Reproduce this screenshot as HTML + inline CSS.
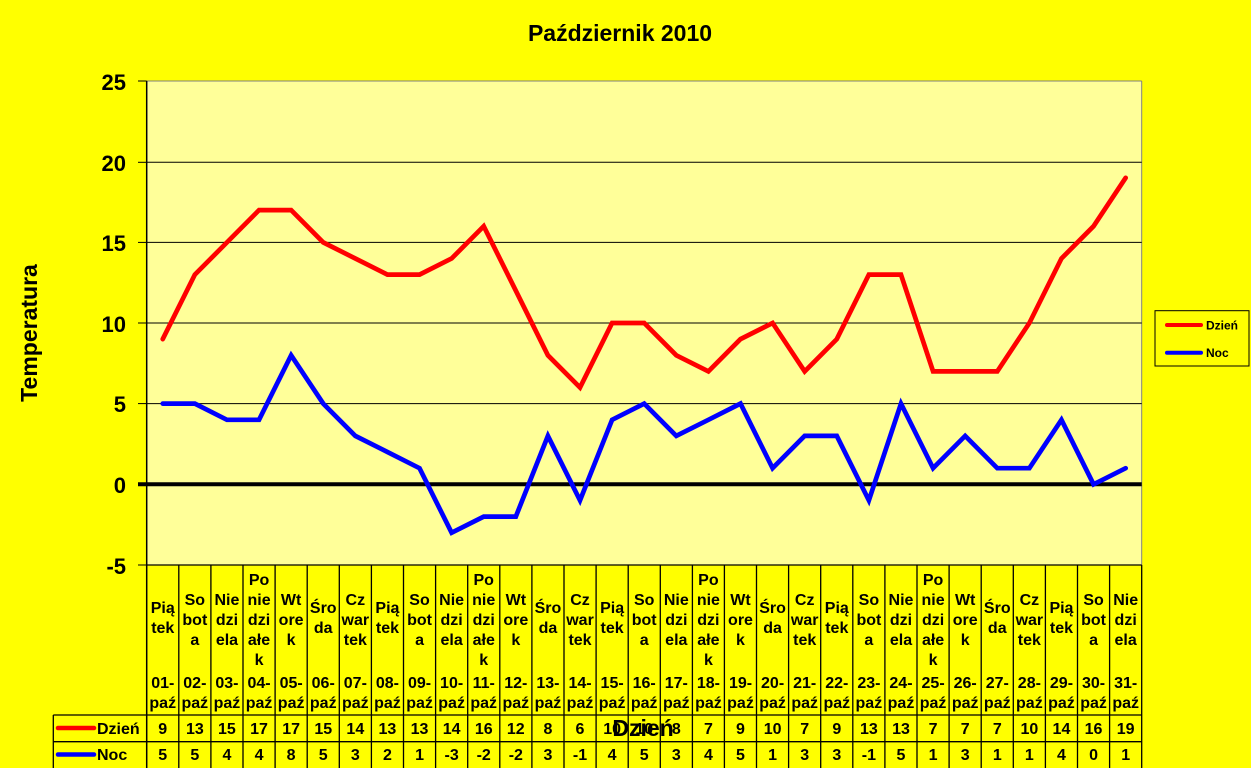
<!DOCTYPE html>
<html><head><meta charset="utf-8">
<style>
html,body{margin:0;padding:0;background:#FFFF00;}
svg{display:block;}
text{font-family:"Liberation Sans",Arial,sans-serif;font-weight:bold;fill:#000;}
</style></head>
<body>
<svg width="1251" height="768" viewBox="0 0 1251 768" xmlns="http://www.w3.org/2000/svg">
<rect x="0" y="0" width="1251" height="768" fill="#FFFF00"/>
<!-- plot area -->
<rect x="146.7" y="81" width="995" height="484" fill="#FFFF99"/>
<line x1="146.7" y1="81" x2="1141.7" y2="81" stroke="#808080" stroke-width="1"/>
<line x1="1141.7" y1="81" x2="1141.7" y2="565" stroke="#808080" stroke-width="1"/>
<!-- gridlines -->
<g stroke="#000" stroke-width="1">
<line x1="146.7" y1="162.3" x2="1141.7" y2="162.3"/>
<line x1="146.7" y1="242.4" x2="1141.7" y2="242.4"/>
<line x1="146.7" y1="323.0" x2="1141.7" y2="323.0"/>
<line x1="146.7" y1="403.6" x2="1141.7" y2="403.6"/>
<!-- ticks -->
<line x1="138" y1="81" x2="146.7" y2="81"/>
<line x1="138" y1="162.3" x2="146.7" y2="162.3"/>
<line x1="138" y1="242.4" x2="146.7" y2="242.4"/>
<line x1="138" y1="323.0" x2="146.7" y2="323.0"/>
<line x1="138" y1="403.6" x2="146.7" y2="403.6"/>
<line x1="138" y1="565" x2="146.7" y2="565"/>
</g>
<line x1="138" y1="484.3" x2="1141.7" y2="484.3" stroke="#000" stroke-width="4"/>
<line x1="146.7" y1="81" x2="146.7" y2="768" stroke="#000" stroke-width="1.5"/>
<!-- y tick labels -->
<g font-size="22" text-anchor="end">
<text x="126" y="90">25</text>
<text x="126" y="171">20</text>
<text x="126" y="251">15</text>
<text x="126" y="332">10</text>
<text x="126" y="412">5</text>
<text x="126" y="493">0</text>
<text x="126" y="574">-5</text>
</g>
<!-- title -->
<text x="620" y="41" font-size="23" text-anchor="middle">Październik 2010</text>
<text transform="translate(37,333) rotate(-90)" font-size="23" text-anchor="middle">Temperatura</text>
<!-- series -->
<polyline fill="none" stroke="#FF0000" stroke-width="4.7" stroke-linejoin="miter" stroke-linecap="round" points="162.75,339.1 194.85,274.6 226.94,242.4 259.04,210.1 291.14,210.1 323.23,242.4 355.33,258.5 387.43,274.6 419.53,274.6 451.62,258.5 483.72,226.2 515.82,290.7 547.91,355.3 580.01,387.5 612.11,323.0 644.2,323.0 676.3,355.3 708.4,371.4 740.5,339.1 772.59,323.0 804.69,371.4 836.79,339.1 868.88,274.6 900.98,274.6 933.08,371.4 965.17,371.4 997.27,371.4 1029.37,323.0 1061.46,258.5 1093.56,226.2 1125.66,177.8"/>
<polyline fill="none" stroke="#0000FF" stroke-width="4.7" stroke-linejoin="miter" stroke-linecap="round" points="162.75,403.6 194.85,403.6 226.94,419.8 259.04,419.8 291.14,355.3 323.23,403.6 355.33,435.9 387.43,452.0 419.53,468.2 451.62,532.7 483.72,516.6 515.82,516.6 547.91,435.9 580.01,500.4 612.11,419.8 644.2,403.6 676.3,435.9 708.4,419.8 740.5,403.6 772.59,468.2 804.69,435.9 836.79,435.9 868.88,500.4 900.98,403.6 933.08,468.2 965.17,435.9 997.27,468.2 1029.37,468.2 1061.46,419.8 1093.56,484.3 1125.66,468.2"/>
<!-- legend -->
<rect x="1155" y="310.7" width="94" height="55.3" fill="#FFFF00" stroke="#000" stroke-width="1"/>
<line x1="1167" y1="325" x2="1201" y2="325" stroke="#FF0000" stroke-width="4" stroke-linecap="round"/>
<line x1="1167" y1="352.7" x2="1201" y2="352.7" stroke="#0000FF" stroke-width="4" stroke-linecap="round"/>
<text x="1206" y="329.5" font-size="12">Dzień</text>
<text x="1206" y="357" font-size="12">Noc</text>
<!-- table grid -->
<g stroke="#000" stroke-width="1.3">
<line x1="146.7" y1="565" x2="1141.7" y2="565"/>
<line x1="53.3" y1="715" x2="1141.7" y2="715"/>
<line x1="53.3" y1="741.7" x2="1141.7" y2="741.7"/>
<line x1="53.3" y1="715" x2="53.3" y2="768"/>
<line x1="178.8" y1="565" x2="178.8" y2="768"/>
<line x1="210.9" y1="565" x2="210.9" y2="768"/>
<line x1="243.0" y1="565" x2="243.0" y2="768"/>
<line x1="275.1" y1="565" x2="275.1" y2="768"/>
<line x1="307.2" y1="565" x2="307.2" y2="768"/>
<line x1="339.3" y1="565" x2="339.3" y2="768"/>
<line x1="371.4" y1="565" x2="371.4" y2="768"/>
<line x1="403.5" y1="565" x2="403.5" y2="768"/>
<line x1="435.6" y1="565" x2="435.6" y2="768"/>
<line x1="467.7" y1="565" x2="467.7" y2="768"/>
<line x1="499.8" y1="565" x2="499.8" y2="768"/>
<line x1="531.9" y1="565" x2="531.9" y2="768"/>
<line x1="564.0" y1="565" x2="564.0" y2="768"/>
<line x1="596.1" y1="565" x2="596.1" y2="768"/>
<line x1="628.2" y1="565" x2="628.2" y2="768"/>
<line x1="660.3" y1="565" x2="660.3" y2="768"/>
<line x1="692.4" y1="565" x2="692.4" y2="768"/>
<line x1="724.4" y1="565" x2="724.4" y2="768"/>
<line x1="756.5" y1="565" x2="756.5" y2="768"/>
<line x1="788.6" y1="565" x2="788.6" y2="768"/>
<line x1="820.7" y1="565" x2="820.7" y2="768"/>
<line x1="852.8" y1="565" x2="852.8" y2="768"/>
<line x1="884.9" y1="565" x2="884.9" y2="768"/>
<line x1="917.0" y1="565" x2="917.0" y2="768"/>
<line x1="949.1" y1="565" x2="949.1" y2="768"/>
<line x1="981.2" y1="565" x2="981.2" y2="768"/>
<line x1="1013.3" y1="565" x2="1013.3" y2="768"/>
<line x1="1045.4" y1="565" x2="1045.4" y2="768"/>
<line x1="1077.5" y1="565" x2="1077.5" y2="768"/>
<line x1="1109.6" y1="565" x2="1109.6" y2="768"/>
<line x1="1141.7" y1="565" x2="1141.7" y2="768"/>
</g>
<!-- table legend keys -->
<line x1="58" y1="728" x2="94" y2="728" stroke="#FF0000" stroke-width="4.5" stroke-linecap="round"/>
<line x1="58" y1="754.5" x2="94" y2="754.5" stroke="#0000FF" stroke-width="4.5" stroke-linecap="round"/>
<g font-size="16">
<text x="97" y="734">Dzień</text>
<text x="97" y="760">Noc</text>
</g>
<!-- headers -->
<g font-size="16" text-anchor="middle">
<text><tspan x="162.75" y="613">Pią</tspan><tspan x="162.75" y="633">tek</tspan></text>
<text><tspan x="194.85" y="605">So</tspan><tspan x="194.85" y="625">bot</tspan><tspan x="194.85" y="645">a</tspan></text>
<text><tspan x="226.94" y="605">Nie</tspan><tspan x="226.94" y="625">dzi</tspan><tspan x="226.94" y="645">ela</tspan></text>
<text><tspan x="259.04" y="585">Po</tspan><tspan x="259.04" y="605">nie</tspan><tspan x="259.04" y="625">dzi</tspan><tspan x="259.04" y="645">ałe</tspan><tspan x="259.04" y="665">k</tspan></text>
<text><tspan x="291.14" y="605">Wt</tspan><tspan x="291.14" y="625">ore</tspan><tspan x="291.14" y="645">k</tspan></text>
<text><tspan x="323.23" y="613">Śro</tspan><tspan x="323.23" y="633">da</tspan></text>
<text><tspan x="355.33" y="605">Cz</tspan><tspan x="355.33" y="625">war</tspan><tspan x="355.33" y="645">tek</tspan></text>
<text><tspan x="387.43" y="613">Pią</tspan><tspan x="387.43" y="633">tek</tspan></text>
<text><tspan x="419.53" y="605">So</tspan><tspan x="419.53" y="625">bot</tspan><tspan x="419.53" y="645">a</tspan></text>
<text><tspan x="451.62" y="605">Nie</tspan><tspan x="451.62" y="625">dzi</tspan><tspan x="451.62" y="645">ela</tspan></text>
<text><tspan x="483.72" y="585">Po</tspan><tspan x="483.72" y="605">nie</tspan><tspan x="483.72" y="625">dzi</tspan><tspan x="483.72" y="645">ałe</tspan><tspan x="483.72" y="665">k</tspan></text>
<text><tspan x="515.82" y="605">Wt</tspan><tspan x="515.82" y="625">ore</tspan><tspan x="515.82" y="645">k</tspan></text>
<text><tspan x="547.91" y="613">Śro</tspan><tspan x="547.91" y="633">da</tspan></text>
<text><tspan x="580.01" y="605">Cz</tspan><tspan x="580.01" y="625">war</tspan><tspan x="580.01" y="645">tek</tspan></text>
<text><tspan x="612.11" y="613">Pią</tspan><tspan x="612.11" y="633">tek</tspan></text>
<text><tspan x="644.2" y="605">So</tspan><tspan x="644.2" y="625">bot</tspan><tspan x="644.2" y="645">a</tspan></text>
<text><tspan x="676.3" y="605">Nie</tspan><tspan x="676.3" y="625">dzi</tspan><tspan x="676.3" y="645">ela</tspan></text>
<text><tspan x="708.4" y="585">Po</tspan><tspan x="708.4" y="605">nie</tspan><tspan x="708.4" y="625">dzi</tspan><tspan x="708.4" y="645">ałe</tspan><tspan x="708.4" y="665">k</tspan></text>
<text><tspan x="740.5" y="605">Wt</tspan><tspan x="740.5" y="625">ore</tspan><tspan x="740.5" y="645">k</tspan></text>
<text><tspan x="772.59" y="613">Śro</tspan><tspan x="772.59" y="633">da</tspan></text>
<text><tspan x="804.69" y="605">Cz</tspan><tspan x="804.69" y="625">war</tspan><tspan x="804.69" y="645">tek</tspan></text>
<text><tspan x="836.79" y="613">Pią</tspan><tspan x="836.79" y="633">tek</tspan></text>
<text><tspan x="868.88" y="605">So</tspan><tspan x="868.88" y="625">bot</tspan><tspan x="868.88" y="645">a</tspan></text>
<text><tspan x="900.98" y="605">Nie</tspan><tspan x="900.98" y="625">dzi</tspan><tspan x="900.98" y="645">ela</tspan></text>
<text><tspan x="933.08" y="585">Po</tspan><tspan x="933.08" y="605">nie</tspan><tspan x="933.08" y="625">dzi</tspan><tspan x="933.08" y="645">ałe</tspan><tspan x="933.08" y="665">k</tspan></text>
<text><tspan x="965.17" y="605">Wt</tspan><tspan x="965.17" y="625">ore</tspan><tspan x="965.17" y="645">k</tspan></text>
<text><tspan x="997.27" y="613">Śro</tspan><tspan x="997.27" y="633">da</tspan></text>
<text><tspan x="1029.37" y="605">Cz</tspan><tspan x="1029.37" y="625">war</tspan><tspan x="1029.37" y="645">tek</tspan></text>
<text><tspan x="1061.46" y="613">Pią</tspan><tspan x="1061.46" y="633">tek</tspan></text>
<text><tspan x="1093.56" y="605">So</tspan><tspan x="1093.56" y="625">bot</tspan><tspan x="1093.56" y="645">a</tspan></text>
<text><tspan x="1125.66" y="605">Nie</tspan><tspan x="1125.66" y="625">dzi</tspan><tspan x="1125.66" y="645">ela</tspan></text>
</g>
<!-- dates -->
<g font-size="16" text-anchor="middle">
<text><tspan x="162.75" y="688">01-</tspan><tspan x="162.75" y="708">paź</tspan></text>
<text><tspan x="194.85" y="688">02-</tspan><tspan x="194.85" y="708">paź</tspan></text>
<text><tspan x="226.94" y="688">03-</tspan><tspan x="226.94" y="708">paź</tspan></text>
<text><tspan x="259.04" y="688">04-</tspan><tspan x="259.04" y="708">paź</tspan></text>
<text><tspan x="291.14" y="688">05-</tspan><tspan x="291.14" y="708">paź</tspan></text>
<text><tspan x="323.23" y="688">06-</tspan><tspan x="323.23" y="708">paź</tspan></text>
<text><tspan x="355.33" y="688">07-</tspan><tspan x="355.33" y="708">paź</tspan></text>
<text><tspan x="387.43" y="688">08-</tspan><tspan x="387.43" y="708">paź</tspan></text>
<text><tspan x="419.53" y="688">09-</tspan><tspan x="419.53" y="708">paź</tspan></text>
<text><tspan x="451.62" y="688">10-</tspan><tspan x="451.62" y="708">paź</tspan></text>
<text><tspan x="483.72" y="688">11-</tspan><tspan x="483.72" y="708">paź</tspan></text>
<text><tspan x="515.82" y="688">12-</tspan><tspan x="515.82" y="708">paź</tspan></text>
<text><tspan x="547.91" y="688">13-</tspan><tspan x="547.91" y="708">paź</tspan></text>
<text><tspan x="580.01" y="688">14-</tspan><tspan x="580.01" y="708">paź</tspan></text>
<text><tspan x="612.11" y="688">15-</tspan><tspan x="612.11" y="708">paź</tspan></text>
<text><tspan x="644.2" y="688">16-</tspan><tspan x="644.2" y="708">paź</tspan></text>
<text><tspan x="676.3" y="688">17-</tspan><tspan x="676.3" y="708">paź</tspan></text>
<text><tspan x="708.4" y="688">18-</tspan><tspan x="708.4" y="708">paź</tspan></text>
<text><tspan x="740.5" y="688">19-</tspan><tspan x="740.5" y="708">paź</tspan></text>
<text><tspan x="772.59" y="688">20-</tspan><tspan x="772.59" y="708">paź</tspan></text>
<text><tspan x="804.69" y="688">21-</tspan><tspan x="804.69" y="708">paź</tspan></text>
<text><tspan x="836.79" y="688">22-</tspan><tspan x="836.79" y="708">paź</tspan></text>
<text><tspan x="868.88" y="688">23-</tspan><tspan x="868.88" y="708">paź</tspan></text>
<text><tspan x="900.98" y="688">24-</tspan><tspan x="900.98" y="708">paź</tspan></text>
<text><tspan x="933.08" y="688">25-</tspan><tspan x="933.08" y="708">paź</tspan></text>
<text><tspan x="965.17" y="688">26-</tspan><tspan x="965.17" y="708">paź</tspan></text>
<text><tspan x="997.27" y="688">27-</tspan><tspan x="997.27" y="708">paź</tspan></text>
<text><tspan x="1029.37" y="688">28-</tspan><tspan x="1029.37" y="708">paź</tspan></text>
<text><tspan x="1061.46" y="688">29-</tspan><tspan x="1061.46" y="708">paź</tspan></text>
<text><tspan x="1093.56" y="688">30-</tspan><tspan x="1093.56" y="708">paź</tspan></text>
<text><tspan x="1125.66" y="688">31-</tspan><tspan x="1125.66" y="708">paź</tspan></text>
</g>
<!-- values -->
<g font-size="16" text-anchor="middle">
<text x="162.75" y="734">9</text><text x="194.85" y="734">13</text><text x="226.94" y="734">15</text><text x="259.04" y="734">17</text><text x="291.14" y="734">17</text><text x="323.23" y="734">15</text><text x="355.33" y="734">14</text><text x="387.43" y="734">13</text><text x="419.53" y="734">13</text><text x="451.62" y="734">14</text><text x="483.72" y="734">16</text><text x="515.82" y="734">12</text><text x="547.91" y="734">8</text><text x="580.01" y="734">6</text><text x="612.11" y="734">10</text><text x="644.2" y="734">10</text><text x="676.3" y="734">8</text><text x="708.4" y="734">7</text><text x="740.5" y="734">9</text><text x="772.59" y="734">10</text><text x="804.69" y="734">7</text><text x="836.79" y="734">9</text><text x="868.88" y="734">13</text><text x="900.98" y="734">13</text><text x="933.08" y="734">7</text><text x="965.17" y="734">7</text><text x="997.27" y="734">7</text><text x="1029.37" y="734">10</text><text x="1061.46" y="734">14</text><text x="1093.56" y="734">16</text><text x="1125.66" y="734">19</text>
<text x="162.75" y="760">5</text><text x="194.85" y="760">5</text><text x="226.94" y="760">4</text><text x="259.04" y="760">4</text><text x="291.14" y="760">8</text><text x="323.23" y="760">5</text><text x="355.33" y="760">3</text><text x="387.43" y="760">2</text><text x="419.53" y="760">1</text><text x="451.62" y="760">-3</text><text x="483.72" y="760">-2</text><text x="515.82" y="760">-2</text><text x="547.91" y="760">3</text><text x="580.01" y="760">-1</text><text x="612.11" y="760">4</text><text x="644.2" y="760">5</text><text x="676.3" y="760">3</text><text x="708.4" y="760">4</text><text x="740.5" y="760">5</text><text x="772.59" y="760">1</text><text x="804.69" y="760">3</text><text x="836.79" y="760">3</text><text x="868.88" y="760">-1</text><text x="900.98" y="760">5</text><text x="933.08" y="760">1</text><text x="965.17" y="760">3</text><text x="997.27" y="760">1</text><text x="1029.37" y="760">1</text><text x="1061.46" y="760">4</text><text x="1093.56" y="760">0</text><text x="1125.66" y="760">1</text>
</g>
<!-- x axis title -->
<text x="643" y="736" font-size="23" text-anchor="middle">Dzień</text>
</svg>
</body></html>
